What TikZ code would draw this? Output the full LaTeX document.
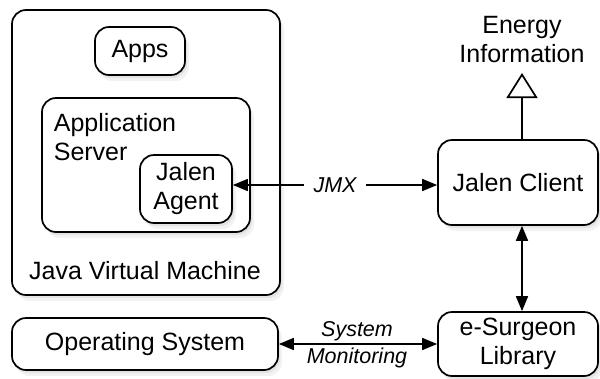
\documentclass[tikz,border=0pt]{standalone}
\usepackage{fontspec}
\setmainfont{Liberation Sans}
\usetikzlibrary{arrows.meta,shadows}
\begin{document}
\begin{tikzpicture}[x=1pt,y=-1pt, line width=1.7pt,
  box/.style={draw, rounded corners=14pt, fill=white,
    drop shadow={opacity=0.12, shadow xshift=2pt, shadow yshift=-3pt},
    drop shadow={opacity=0.10, shadow xshift=4pt, shadow yshift=-6pt},
    font=\fontsize{25}{29}\selectfont, align=center, inner sep=0pt},
  txt/.style={font=\fontsize{25}{29}\selectfont, inner sep=0pt},
  lbl/.style={font=\fontsize{21.5}{26}\selectfont\itshape, inner ysep=0pt, inner xsep=9pt},
  fat/.tip={Triangle[length=15pt,width=12pt]}]
\useasboundingbox (0,0) rectangle (600,378);
% JVM
\node[box, minimum width=268pt, minimum height=285pt] (jvm) at (146,152.5) {};
\node[txt] (jvmtxt) at (145,271) {Java Virtual Machine};
\node[box, minimum width=90pt, minimum height=48pt] (apps) at (140,51) {Apps};
\node[box, minimum width=208pt, minimum height=134pt] (as) at (146,165) {};
\node[txt, anchor=north west, align=left] (astxt) at (53,113) {Application\\Server};
\node[box, minimum width=92pt, minimum height=68pt] (agent) at (186,189) {Jalen\\Agent};
% right side
\node[box, minimum width=160pt, minimum height=85pt] (client) at (518,182.5) {Jalen Client};
\node[box, minimum width=160pt, minimum height=64pt] (esurg) at (518,344) {e-Surgeon\\Library};
\node[box, minimum width=266pt, minimum height=52pt] (os) at (145,344) {Operating System};
\node[txt, align=center] (energy) at (522,40) {Energy\\Information};
\coordinate (etip) at (522,73);
% connectors
\draw[-{Triangle[open,length=25pt,width=31pt,fill=white]}] (etip |- client.north) -- (etip);
\node[lbl] (jmx) at (335,185) {JMX};
\draw[-fat] (jmx.east) -- (client.west |- jmx);
\draw[-fat] (jmx.west) -- (agent.east |- jmx);
\draw[fat-fat] (etip |- client.south) -- (etip |- esurg.north);
\draw[fat-fat] (os.east) -- (esurg.west |- os.east);
\node[lbl] (sys) at (357,331) {System};
\node[lbl] (mon) at (357,358) {Monitoring};
\end{tikzpicture}
\end{document}
